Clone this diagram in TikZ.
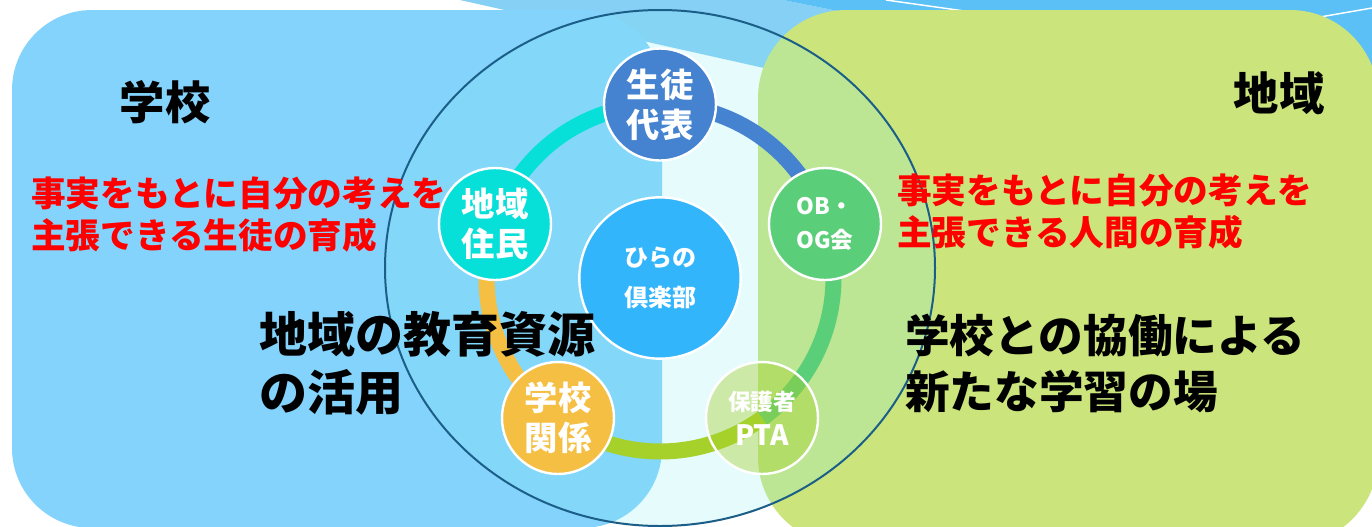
\documentclass[tikz,border=0pt]{standalone}
\usepackage{fontspec}
\newfontfamily\cjk{Noto Sans CJK JP}
\definecolor{panelblue}{HTML}{84D3FC}
\definecolor{panelgreen}{HTML}{CBE57C}
\definecolor{bandlight}{HTML}{86CFF5}
\definecolor{banddark}{HTML}{5BC0F5}
\definecolor{ringline}{HTML}{1B5E87}
\definecolor{veil}{RGB}{130,235,240}
\definecolor{cblue}{HTML}{4583D0}
\definecolor{ccyan}{HTML}{07DFD9}
\definecolor{corange}{HTML}{F4BF42}
\definecolor{cgreen}{HTML}{5ACE78}
\definecolor{cyg}{HTML}{A6D02A}
\definecolor{ccenter}{HTML}{33B5FC}
\tikzset{
  member/.style={circle, draw=white, line width=1.8pt, minimum size=84pt, inner sep=0pt,
    text=white, align=center, font=\cjk\bfseries\fontsize{25}{30}\selectfont},
  ringseg/.style={line width=12pt},
  bigtext/.style={anchor=west, inner sep=0pt, align=left, text=black},
  redtext/.style={anchor=west, inner sep=0pt, align=left, text=red,
    font=\cjk\bfseries\fontsize{26}{31.5}\selectfont}
}
\begin{document}
\begin{tikzpicture}[x=0.75pt,y=-0.75pt]
\useasboundingbox (0,0) rectangle (1372,526);
\fill[white] (0,0) rectangle (1372,526);
% top band decoration
\fill[bandlight] (460,0) -- (783,0) -- (1372,118) -- (1372,204) -- cycle;
\fill[banddark] (783,0) -- (1372,0) -- (1372,118) -- cycle;
\draw[white, line width=1.1pt] (886,0) -- (1000,16);
\draw[white, line width=1.1pt] (1320,17) -- (1372,8);
% panels
\fill[panelblue, rounded corners=60pt] (12,10) rectangle (662,528);
\fill[panelgreen, rounded corners=66pt] (758,10) rectangle (1378,545);
% big circle veil
\fill[veil, fill opacity=0.2] (660,268) ellipse [x radius=275, y radius=258];
% ring segments
\draw[ringseg, cblue] plot[domain=-90:-18, samples=40] ({660+173.5*cos(\x)},{278+173.5*sin(\x)});
\draw[ringseg, cgreen] plot[domain=-18:54, samples=40] ({660+173.5*cos(\x)},{278+173.5*sin(\x)});
\draw[ringseg, cyg] plot[domain=54:126, samples=40] ({660+173.5*cos(\x)},{278+173.5*sin(\x)});
\draw[ringseg, corange] plot[domain=126:198, samples=40] ({660+173.5*cos(\x)},{278+173.5*sin(\x)});
\draw[ringseg, ccyan] plot[domain=198:270, samples=40] ({660+173.5*cos(\x)},{278+173.5*sin(\x)});
% nodes
\node[member, fill=ccenter, minimum size=121pt, font=\cjk\bfseries\fontsize{18}{30}\selectfont] (hub) at (660,278) {ひらの\\倶楽部};
\node[member, fill=cblue] (seito) at (660,104.5) {生徒\\代表};
\node[member, fill=cgreen, font=\cjk\bfseries\fontsize{17}{25}\selectfont] (obog) at (825,224) {OB・\\OG会};
\node[member, fill=cyg, fill opacity=0.4, text opacity=1, font=\cjk\bfseries\fontsize{17}{26}\selectfont] (pta) at (762,418) {保護者\\{\fontsize{21}{26}\selectfont PTA}};
\node[member, fill=corange] (gakko) at (558,418) {学校\\関係};
\node[member, fill=ccyan] (chiiki) at (495,224) {地域\\住民};
% big circle outline
\draw[ringline, line width=1.5pt] (660,268) ellipse [x radius=275, y radius=258];
% texts
\node[bigtext, anchor=center, font=\cjk\bfseries\fontsize{34}{38}\selectfont] (tSchool) at (165,102) {学校};
\node[bigtext, anchor=center, font=\cjk\bfseries\fontsize{34}{38}\selectfont] (tArea) at (1279,93) {地域};
\node[redtext] (rLeft) at (31,215) {事実をもとに自分の考えを\\主張できる生徒の育成};
\node[redtext] (rRight) at (897,212) {事実をもとに自分の考えを\\主張できる人間の育成};
\node[bigtext, font=\cjk\bfseries\fontsize{36}{43.5}\selectfont] (bLeft) at (259,363) {地域の教育資源\\の活用};
\node[bigtext, font=\cjk\bfseries\fontsize{33.5}{42}\selectfont] (bRight) at (905,363) {学校との協働による\\新たな学習の場};
\end{tikzpicture}
\end{document}
